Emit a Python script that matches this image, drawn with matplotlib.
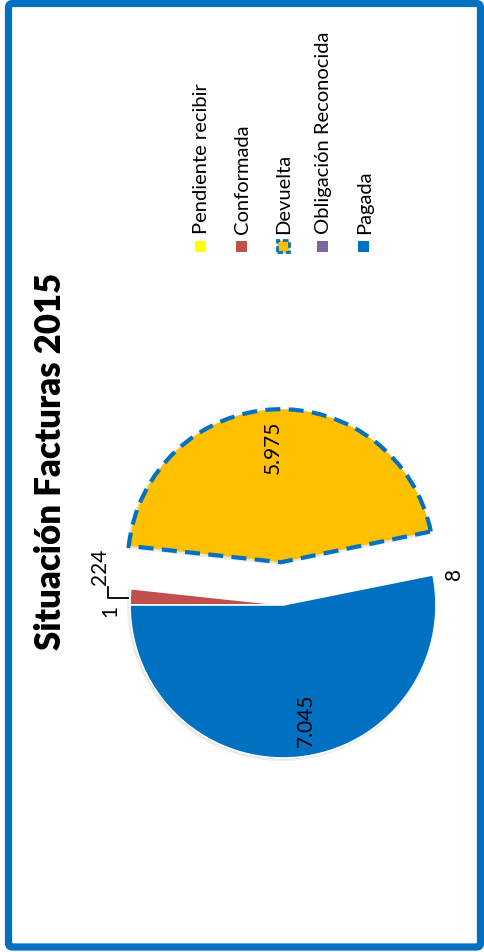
import numpy as np
import matplotlib.pyplot as plt
from matplotlib.patches import Rectangle, FancyBboxPatch, Shadow

# --- Data ---
categories = ["Pendiente recibir", "Conformada", "Devuelta", "Obligación Reconocida", "Pagada"]
values = [1, 224, 5975, 8, 7045]
value_labels = ["1", "224", "5.975", "8", "7.045"]
title = "Situación Facturas 2015"

# --- Style ---
colors = ["#FFFF00", "#C0504D", "#FFC000", "#8064A2", "#0070C0"]
BLUE = "#0070C0"
W, H = 485, 952
FONT = "Lato"


def Y(y_img):
    # pixel row (from top) -> data y (from bottom)
    return H - y_img


fig = plt.figure(figsize=(W / 100, H / 100), dpi=100, facecolor="white")
ax = fig.add_axes([0, 0, 1, 1])

# Pie is drawn already turned a quarter turn (chart is rotated in the reference)
R = 153
center = (283, Y(605))
wedges, _ = ax.pie(values, colors=colors, startangle=180, counterclock=False,
                   explode=[0, 0, 0.28 * R, 0, 0], radius=R, center=center,
                   wedgeprops=dict(edgecolor="white", linewidth=1.2, zorder=2))

# soft grey shadow under the slices
for w in wedges:
    sh = Shadow(w, -1.0, -1.2, facecolor="#dadada", edgecolor="#e6e6e6",
                linewidth=2.0, linestyle="-", alpha=0.7, zorder=1)
    ax.add_patch(sh)

wedges[2].set_edgecolor(BLUE)
wedges[2].set_linewidth(3)
wedges[2].set_linestyle((0, (3.6, 2.0)))

# data labels: radial factor and angle tweak per slice
rfac = [1.13, 1.22, 0.75, 1.136, 0.77]
dang = [2.0, -8.6, 1.1, -1.2, 5.6]
for w, txt, rf, da in zip(wedges, value_labels, rfac, dang):
    th = np.deg2rad((w.theta1 + w.theta2) / 2 + da)
    cx, cy = w.center
    ax.text(cx + rf * R * np.cos(th), cy + rf * R * np.sin(th), txt,
            rotation=90, ha="center", va="center", fontsize=15, family=FONT,
            zorder=3)

# leader line for the small "224" label, ending on the red slice
ax.plot([108, 108, 128], [Y(587), Y(598), Y(598)], color="black", lw=1.3,
        zorder=3)

# title
ax.text(51, Y(461), title, rotation=90, ha="center", va="center",
        fontsize=25, fontweight="heavy", family=FONT)

# legend, turned like the rest of the chart
leg_x = [201, 242, 283, 323, 364]
for i, (lx, name) in enumerate(zip(leg_x, categories)):
    if i == 2:
        ax.add_patch(Rectangle((lx - 6, Y(252)), 12, 12, facecolor=colors[i],
                               edgecolor=BLUE, lw=2, linestyle=(0, (2, 1))))
    else:
        ax.add_patch(Rectangle((lx - 5.5, Y(251.5)), 11, 11, facecolor=colors[i],
                               edgecolor="none"))
    ax.text(lx + 1, Y(234), name, rotation=90, ha="center", va="bottom",
            fontsize=14.5, family=FONT)

# blue frame
ax.add_patch(FancyBboxPatch((8.5, Y(947)), 472, 943.5,
                            boxstyle="round,pad=0,rounding_size=4",
                            facecolor="none", edgecolor=BLUE, lw=5.2))

ax.set_xlim(0, W)
ax.set_ylim(0, H)
ax.set_aspect("auto")
ax.axis("off")

fig.savefig("out.png", dpi=100)
